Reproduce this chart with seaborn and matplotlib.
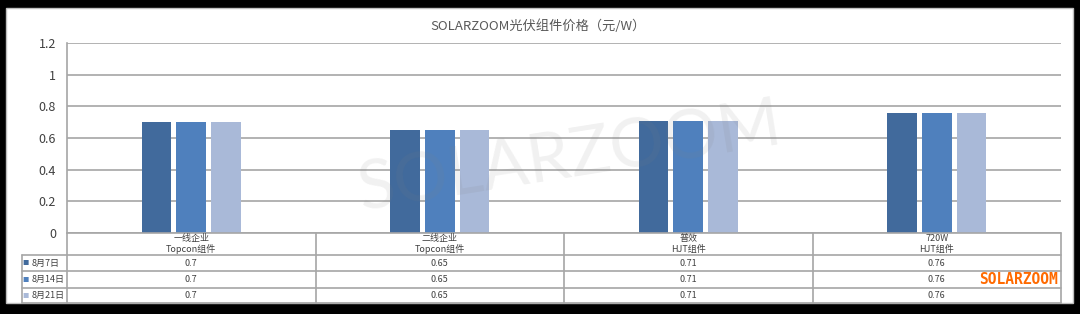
import numpy as np
import pandas as pd
import matplotlib
matplotlib.use('Agg')
import matplotlib.pyplot as plt
import matplotlib.transforms as mtransforms
from matplotlib.patches import Rectangle
from matplotlib.lines import Line2D
import seaborn as sns

# ---------------- data ----------------
categories = ['一线企业\nTopcon组件', '二线企业\nTopcon组件', '普效\nHJT组件', '720W\nHJT组件']
series_names = ['8月7日', '8月14日', '8月21日']
values_aug7 = [0.7, 0.65, 0.71, 0.76]
values_aug14 = [0.7, 0.65, 0.71, 0.76]
values_aug21 = [0.7, 0.65, 0.71, 0.76]
yticks = [0, 0.2, 0.4, 0.6, 0.8, 1, 1.2]
ytick_labels = ['0', '0.2', '0.4', '0.6', '0.8', '1', '1.2']
title = 'SOLARZOOM光伏组件价格（元/W）'
watermark = 'SOLARZOOM'
brand = 'SOLARZOOM'
colors = ['#416a9c', '#4f80bd', '#a9b9d8']

series_values = [values_aug7, values_aug14, values_aug21]
df = pd.DataFrame({
    'cat': [c for _ in series_names for c in categories],
    'series': [s for s in series_names for _ in categories],
    'val': [v for vals in series_values for v in vals],
})

sns.set_theme(style='white')
plt.rcParams['font.family'] = ['Noto Sans CJK SC', 'DejaVu Sans']

W, H = 1080, 314
fig = plt.figure(figsize=(W / 100, H / 100), dpi=100, facecolor='black')
fig.patches.append(Rectangle((6 / W, 1 - 303 / H), (1073 - 6) / W, (303 - 8) / H,
                             transform=fig.transFigure, facecolor='white',
                             edgecolor='#bfbfbf', lw=1, zorder=-5))

ax = fig.add_axes([67 / W, 1 - 233 / H, (1061 - 67) / W, 190 / H])
ax.set_facecolor('none')

sns.barplot(data=df, x='cat', y='val', hue='series', hue_order=series_names,
            order=categories, palette=colors, width=0.42, gap=0.14,
            saturation=1, linewidth=0, legend=False, ax=ax)

ax.set_xlim(-0.5, len(categories) - 0.5)
ax.set_ylim(0, 1.2)
ax.set_yticks(yticks)
ax.set_yticklabels(ytick_labels, fontsize=9, color='#404040')
ax.set_xticks([])
ax.set_xlabel('')
ax.set_ylabel('')
ax.tick_params(axis='y', length=0, pad=8)
ax.set_axisbelow(True)
ax.yaxis.grid(True, color='#a6a6a6', lw=1.2)
for s in ['top', 'right', 'bottom']:
    ax.spines[s].set_visible(False)
ax.spines['left'].set_color('#a6a6a6')
ax.spines['left'].set_linewidth(1.2)

# ---------------- data table ----------------
trans = mtransforms.blended_transform_factory(ax.transData, ax.transAxes)
def yf(px):
    return (233 - px) / 190.0

unit = 248.5
xl = -0.5 + (22 - 67) / unit
x0, x1 = -0.5, len(categories) - 0.5
line_kw = dict(color='#a6a6a6', lw=1.2, transform=trans, clip_on=False)

row_edges = [255, 271, 288, 303]
ax.add_line(Line2D([x0, x1], [yf(233), yf(233)], **line_kw))
for r in row_edges:
    ax.add_line(Line2D([xl, x1], [yf(r), yf(r)], **line_kw))
ax.add_line(Line2D([x0, x0], [yf(233), yf(303)], **line_kw))
ax.add_line(Line2D([xl, xl], [yf(255), yf(303)], **line_kw))
for i in range(len(categories)):
    ax.add_line(Line2D([i + 0.5, i + 0.5], [yf(233), yf(303)], **line_kw))

for i, c in enumerate(categories):
    ax.text(i, yf(244), c, transform=trans, ha='center', va='center',
            fontsize=6.5, color='#404040', linespacing=1.15, clip_on=False)

for r, (name, vals, col) in enumerate(zip(series_names, series_values, colors)):
    yc = yf((row_edges[r] + row_edges[r + 1]) / 2)
    ax.text(-0.5 + (22.5 - 67) / unit, yc, '■', transform=trans, ha='left', va='center',
            fontsize=4.5, color=col, clip_on=False)
    ax.text(-0.5 + (32 - 67) / unit, yc, name, transform=trans, ha='left', va='center',
            fontsize=6.5, color='#404040', clip_on=False)
    for i, v in enumerate(vals):
        ax.text(i, yc, f'{v:g}', transform=trans, ha='center', va='center',
                fontsize=6.5, color='#404040', clip_on=False)

fig.text(538 / W, 1 - 26 / H, title, ha='center', va='center', fontsize=9.5, color='#595959')

fig.text(570 / W, 1 - 158 / H, watermark, rotation=9, fontsize=49, color='#808080',
         alpha=0.11, family='Lato', ha='center', va='center', zorder=5)

fig.text(1058 / W, 1 - 279 / H, brand, ha='right', va='center', fontsize=10.5,
         color='#ff6a00', family='DejaVu Sans Mono', weight='bold')

fig.savefig('out.png', dpi=100, facecolor='black')
